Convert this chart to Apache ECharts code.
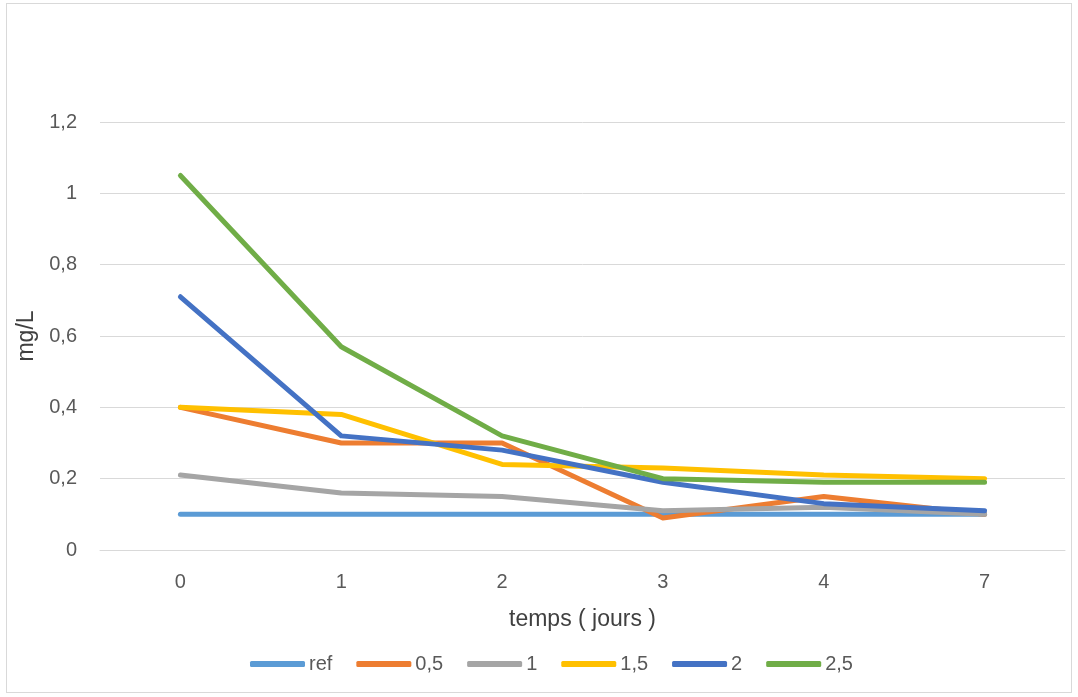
<!DOCTYPE html>
<html>
<head>
<meta charset="utf-8">
<script src="https://cdn.jsdelivr.net/npm/echarts@6/dist/echarts.min.js"></script>
<style>
html,body{margin:0;padding:0;background:#fff;}
#chart{width:1078px;height:697px;}
#frame{position:absolute;left:6px;top:3px;width:1066px;height:690px;border:1px solid #d9d9d9;box-sizing:border-box;pointer-events:none;}
</style>
</head>
<body>
<div id="chart"></div>
<div id="frame"></div>
<script>
const categories = ['0', '1', '2', '3', '4', '7'];
const seriesNames = ['ref', '0,5', '1', '1,5', '2', '2,5'];
const refValues = [0.10, 0.10, 0.10, 0.10, 0.10, 0.10];
const values05 = [0.40, 0.30, 0.30, 0.09, 0.15, 0.10];
const values1 = [0.21, 0.16, 0.15, 0.11, 0.12, 0.10];
const values15 = [0.40, 0.38, 0.24, 0.23, 0.21, 0.20];
const values2 = [0.71, 0.32, 0.28, 0.19, 0.13, 0.11];
const values25 = [1.05, 0.57, 0.32, 0.20, 0.19, 0.19];
const yTicks = [0, 0.2, 0.4, 0.6, 0.8, 1.0, 1.2];
const colors = ['#5b9bd5', '#ed7d31', '#a5a5a5', '#ffc000', '#4472c4', '#70ad47'];
const allValues = [refValues, values05, values1, values15, values2, values25];

const font = '"Liberation Sans", "DejaVu Sans", sans-serif';
const chart = echarts.init(document.getElementById('chart'));
chart.setOption({
  animation: false,
  color: colors,
  grid: {left: 100, right: 13, top: 122, bottom: 147, containLabel: false},
  legend: {
    left: 245, top: 649,
    itemWidth: 55, itemHeight: 6, itemGap: 24,
    icon: 'roundRect',
    textStyle: {color: '#595959', fontSize: 20, fontFamily: font, padding: [0, 0, 0, -1]},
    data: seriesNames
  },
  xAxis: {
    type: 'category',
    data: categories,
    boundaryGap: true,
    name: 'temps ( jours )',
    nameLocation: 'middle',
    nameGap: 58,
    nameTextStyle: {color: '#404040', fontSize: 23, fontFamily: font},
    axisLine: {show: true, lineStyle: {color: '#d9d9d9', width: 1}},
    axisTick: {show: false},
    axisLabel: {color: '#595959', fontSize: 20, fontFamily: font, margin: 22}
  },
  yAxis: {
    type: 'value',
    min: 0, max: 1.2, interval: 0.2,
    name: 'mg/L',
    nameLocation: 'middle',
    nameGap: 62,
    nameRotate: 90,
    nameTextStyle: {color: '#404040', fontSize: 23, fontFamily: font},
    axisLine: {show: false},
    axisTick: {show: false},
    splitLine: {lineStyle: {color: '#d9d9d9', width: 1}},
    axisLabel: {
      color: '#595959', fontSize: 20, fontFamily: font, margin: 23,
      formatter: v => {
        const t = yTicks.find(x => Math.abs(x - v) < 1e-9);
        const val = t === undefined ? v : t;
        return String(Math.round(val * 10) / 10).replace('.', ',');
      }
    }
  },
  series: seriesNames.map((n, i) => ({
    name: n,
    type: 'line',
    data: allValues[i],
    symbol: 'none',
    lineStyle: {width: 5, color: colors[i], cap: 'round', join: 'round'},
    itemStyle: {color: colors[i]}
  }))
});
</script>
</body>
</html>
